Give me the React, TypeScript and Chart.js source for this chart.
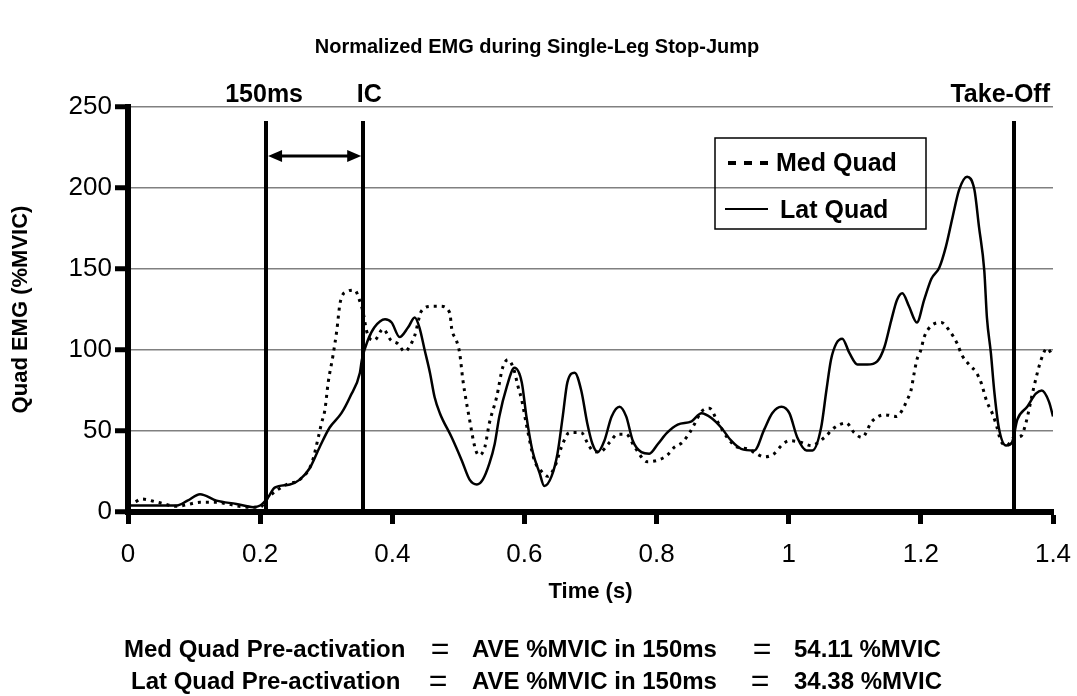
import { useEffect, useRef } from "react";
import { Chart, registerables } from "chart.js";

Chart.register(...registerables);

// ---------- data ----------
const chartTitle = "Normalized EMG during Single-Leg Stop-Jump";
const xTitle = "Time (s)";
const yTitle = "Quad EMG (%MVIC)";
const seriesNames = ["Med Quad", "Lat Quad"];

const xTicks = [0, 0.2, 0.4, 0.6, 0.8, 1, 1.2, 1.4];
const yTicks = [0, 50, 100, 150, 200, 250];

const markerTimes = [0.209, 0.356, 1.341];
const markerLabels = ["150ms", "IC", "Take-Off"];

const noteLines = [
  ["Med Quad Pre-activation", "AVE %MVIC in 150ms", "54.11 %MVIC"],
  ["Lat Quad Pre-activation", "AVE %MVIC in 150ms", "34.38 %MVIC"],
];

const medTimes = [
  0, 0.01, 0.02, 0.045, 0.074, 0.089, 0.109, 0.134, 0.15, 0.18, 0.2, 0.212,
  0.24, 0.26, 0.278, 0.288, 0.293, 0.298, 0.303, 0.31, 0.316, 0.321, 0.331,
  0.343, 0.351, 0.356, 0.361, 0.366, 0.373, 0.386, 0.398, 0.408, 0.419, 0.426,
  0.434, 0.444, 0.46, 0.472, 0.487, 0.49, 0.497, 0.502, 0.507, 0.517, 0.525,
  0.531, 0.54, 0.547, 0.558, 0.567, 0.575, 0.584, 0.59, 0.596, 0.603, 0.615,
  0.626, 0.635, 0.646, 0.656, 0.668, 0.686, 0.695, 0.703, 0.714, 0.729, 0.741,
  0.754, 0.767, 0.786, 0.802, 0.816, 0.827, 0.839, 0.85, 0.857, 0.868, 0.88,
  0.892, 0.907, 0.922, 0.937, 0.951, 0.963, 0.978, 0.989, 1.001, 1.019, 1.034,
  1.054, 1.069, 1.087, 1.099, 1.111, 1.126, 1.145, 1.163, 1.172, 1.179, 1.185,
  1.19, 1.194, 1.2, 1.205, 1.216, 1.231, 1.243, 1.255, 1.262, 1.273, 1.284,
  1.291, 1.3, 1.308, 1.314, 1.321, 1.33, 1.341, 1.352, 1.359, 1.371, 1.382,
  1.391, 1.4,
];
const medValues = [
  5, 6, 8, 6, 3.5, 4.5, 6, 6, 5, 3, 3, 9,
  17, 20, 30, 46, 55, 63, 80, 96, 112, 129, 136,
  137, 130, 123, 112, 107, 106, 113, 106, 104, 99, 102,
  109, 124, 127, 127, 123, 113, 106, 98, 81, 57, 40,
  35, 40, 55, 71, 89, 94, 88, 78, 69, 54, 32,
  25, 22, 28, 40, 49, 49, 43, 38, 37, 43, 48,
  48, 40, 31, 32, 35, 40, 43, 49, 54, 62, 64,
  56, 46, 40, 39, 36, 34, 36, 41, 44, 43, 41,
  46, 52, 55, 49, 46, 56, 60, 59, 63, 69, 75,
  86, 94, 100, 108, 115, 117, 112, 104, 97, 91, 86,
  80, 68, 61, 54, 44, 41, 46, 47, 55, 77, 94,
  101, 96,
];

const latTimes = [
  0, 0.03, 0.074, 0.09, 0.109, 0.134, 0.164, 0.19, 0.2, 0.212, 0.222, 0.245,
  0.26, 0.275, 0.29, 0.305, 0.323, 0.336, 0.351, 0.354, 0.363, 0.373, 0.389,
  0.399, 0.411, 0.424, 0.434, 0.441, 0.449, 0.457, 0.464, 0.472, 0.49, 0.505,
  0.517, 0.528, 0.537, 0.547, 0.555, 0.562, 0.573, 0.585, 0.596, 0.603, 0.612,
  0.623, 0.63, 0.641, 0.65, 0.658, 0.665, 0.676, 0.686, 0.695, 0.703, 0.711,
  0.721, 0.732, 0.744, 0.754, 0.764, 0.777, 0.789, 0.802, 0.816, 0.832, 0.853,
  0.868, 0.883, 0.898, 0.913, 0.928, 0.948, 0.963, 0.975, 0.989, 1.001, 1.013,
  1.027, 1.036, 1.049, 1.057, 1.064, 1.072, 1.081, 1.092, 1.104, 1.119, 1.134,
  1.145, 1.155, 1.164, 1.172, 1.182, 1.194, 1.205, 1.216, 1.228, 1.238, 1.248,
  1.258, 1.27, 1.281, 1.288, 1.296, 1.3, 1.306, 1.311, 1.318, 1.329, 1.338,
  1.346, 1.361, 1.374, 1.383, 1.394, 1.4,
];
const latValues = [
  4, 4, 4, 7, 11, 7, 5, 3, 4, 9, 15, 17,
  20, 27, 40, 52, 61, 71, 86, 94, 106, 114, 119,
  117, 108, 114, 120, 114, 100, 86, 71, 61, 46, 32,
  20, 17, 20, 30, 42, 59, 77, 89, 80, 59, 38,
  24, 16, 22, 36, 59, 80, 86, 75, 55, 42, 37,
  44, 59, 65, 59, 44, 37, 36, 42, 49, 54, 56,
  61, 58, 52, 44, 39, 38, 51, 61, 65, 61, 46,
  38, 38, 52, 75, 94, 104, 107, 98, 91, 91, 93,
  102, 118, 131, 135, 127, 117, 131, 144, 151, 164, 182,
  199, 207, 199, 176, 149, 120, 98, 75, 52, 41, 43,
  57, 65, 73, 75, 68, 59,
];

// ---------- styling ----------
const FONT = "'Liberation Sans', Arial, Helvetica, sans-serif";

const annotPlugin = {
  id: "annot",
  afterDatasetsDraw(chart: any) {
    const { ctx, chartArea, scales } = chart;
    const x = scales.x;
    ctx.save();
    const lineTop = chartArea.top + 14;
    ctx.strokeStyle = "#000";
    ctx.lineWidth = 4;
    markerTimes.forEach((t) => {
      const px = Math.round(x.getPixelForValue(t));
      ctx.beginPath();
      ctx.moveTo(px, lineTop);
      ctx.lineTo(px, chartArea.bottom);
      ctx.stroke();
    });
    const ax1 = x.getPixelForValue(markerTimes[0]) + 2;
    const ax2 = x.getPixelForValue(markerTimes[1]) - 2;
    const ay = chartArea.top + 49;
    const ah = 14;
    const aw = 6;
    ctx.lineWidth = 3;
    ctx.beginPath();
    ctx.moveTo(ax1 + ah - 2, ay);
    ctx.lineTo(ax2 - ah + 2, ay);
    ctx.stroke();
    ctx.fillStyle = "#000";
    ctx.beginPath();
    ctx.moveTo(ax1, ay);
    ctx.lineTo(ax1 + ah, ay - aw);
    ctx.lineTo(ax1 + ah, ay + aw);
    ctx.closePath();
    ctx.fill();
    ctx.beginPath();
    ctx.moveTo(ax2, ay);
    ctx.lineTo(ax2 - ah, ay - aw);
    ctx.lineTo(ax2 - ah, ay + aw);
    ctx.closePath();
    ctx.fill();
    ctx.font = `bold 25px ${FONT}`;
    ctx.textBaseline = "alphabetic";
    const labelY = chartArea.top - 5;
    const p0 = x.getPixelForValue(markerTimes[0]);
    const p1 = x.getPixelForValue(markerTimes[1]);
    ctx.textAlign = "center";
    ctx.fillText(markerLabels[0], p0 - 2, labelY);
    ctx.fillText(markerLabels[1], p1 + 6, labelY);
    ctx.textAlign = "right";
    ctx.fillText(markerLabels[2], chartArea.right - 3, labelY);
    ctx.restore();
  },
  afterDraw(chart: any) {
    const { ctx, chartArea } = chart;
    ctx.save();
    ctx.fillStyle = "#000";
    ctx.font = `bold 20px ${FONT}`;
    ctx.textAlign = "center";
    ctx.textBaseline = "alphabetic";
    ctx.fillText(chartTitle, 537, 53);
    ctx.font = `bold 22px ${FONT}`;
    ctx.textBaseline = "middle";
    ctx.fillText(xTitle, (chartArea.left + chartArea.right) / 2, 592);
    ctx.save();
    ctx.translate(21, (chartArea.top + chartArea.bottom) / 2);
    ctx.rotate(-Math.PI / 2);
    ctx.fillText(yTitle, 0, 0);
    ctx.restore();

    // legend
    const lx = 715, ly = 138, lw = 211, lh = 91;
    ctx.lineWidth = 1.5;
    ctx.strokeStyle = "#000";
    ctx.strokeRect(lx, ly, lw, lh);
    ctx.lineWidth = 4;
    ctx.setLineDash([8, 8]);
    ctx.beginPath();
    ctx.moveTo(728, 163);
    ctx.lineTo(768, 163);
    ctx.stroke();
    ctx.setLineDash([]);
    ctx.lineWidth = 2;
    ctx.beginPath();
    ctx.moveTo(725, 209);
    ctx.lineTo(768, 209);
    ctx.stroke();
    ctx.font = `bold 25px ${FONT}`;
    ctx.textAlign = "left";
    ctx.textBaseline = "alphabetic";
    ctx.fillText(seriesNames[0], 776, 171);
    ctx.fillText(seriesNames[1], 780, 218);

    // notes at bottom
    const rows = [
      { y: 657, xs: [124, 472, 794], eq: [440, 762] },
      { y: 689, xs: [131, 472, 794], eq: [438, 760] },
    ];
    rows.forEach((r, i) => {
      ctx.font = `bold 24px ${FONT}`;
      ctx.textAlign = "left";
      noteLines[i].forEach((s, j) => ctx.fillText(s, r.xs[j], r.y));
      ctx.font = `32px ${FONT}`;
      ctx.textAlign = "center";
      r.eq.forEach((ex) => ctx.fillText("=", ex, r.y + 2));
    });
    ctx.restore();
  },
};

export default function App() {
  const canvasRef = useRef<HTMLCanvasElement | null>(null);

  useEffect(() => {
    const canvas = canvasRef.current;
    if (!canvas) return;
    const chart = new Chart(canvas, {
      type: "line",
      data: {
        datasets: [
          {
            label: seriesNames[0],
            data: medTimes.map((t, i) => ({ x: t, y: medValues[i] })),
            borderColor: "#000",
            borderWidth: 3,
            borderDash: [3, 5],
            pointRadius: 0,
            fill: false,
            cubicInterpolationMode: "monotone",
          },
          {
            label: seriesNames[1],
            data: latTimes.map((t, i) => ({ x: t, y: latValues[i] })),
            borderColor: "#000",
            borderWidth: 2.5,
            pointRadius: 0,
            fill: false,
            cubicInterpolationMode: "monotone",
          },
        ],
      },
      options: {
        animation: false,
        responsive: false,
        devicePixelRatio: 1,
        layout: { padding: { left: 0, right: 24, top: 107, bottom: 0 } },
        plugins: {
          legend: { display: false },
          title: { display: false },
          tooltip: { enabled: false },
        },
        scales: {
          x: {
            type: "linear",
            min: 0,
            max: 1.4,
            afterBuildTicks: (s: any) => {
              s.ticks = xTicks.map((v) => ({ value: v }));
            },
            afterFit: (s: any) => {
              s.height = 184;
              s.paddingRight = 0;
              s.paddingLeft = 0;
            },
            ticks: {
              color: "#000",
              font: { family: FONT, size: 26 },
              padding: 15,
              maxRotation: 0,
              autoSkip: false,
              callback: (v: any) => String(Number(Number(v).toFixed(1))),
            },
            grid: {
              display: true,
              drawOnChartArea: false,
              drawTicks: true,
              tickColor: "#000",
              tickWidth: 5,
              tickLength: 12,
            },
            border: { display: true, color: "#000", width: 6 },
          },
          y: {
            type: "linear",
            min: 0,
            max: 250,
            afterBuildTicks: (s: any) => {
              s.ticks = yTicks.map((v) => ({ value: v }));
            },
            afterFit: (s: any) => {
              s.width = 128;
              s.paddingTop = 0;
              s.paddingBottom = 0;
            },
            ticks: {
              color: "#000",
              font: { family: FONT, size: 26 },
              padding: 3,
              autoSkip: false,
            },
            grid: {
              display: true,
              drawOnChartArea: true,
              color: "#808080",
              lineWidth: 1.5,
              drawTicks: true,
              tickColor: "#000",
              tickWidth: 5,
              tickLength: 13,
            },
            border: { display: true, color: "#000", width: 6 },
          },
        },
      },
      plugins: [annotPlugin],
    } as any);
    return () => chart.destroy();
  }, []);

  return (
    <div
      style={{
        position: "absolute",
        left: 0,
        top: 0,
        width: 1077,
        height: 696,
        background: "#fff",
      }}
    >
      <canvas ref={canvasRef} width={1077} height={696} style={{ display: "block" }} />
    </div>
  );
}
